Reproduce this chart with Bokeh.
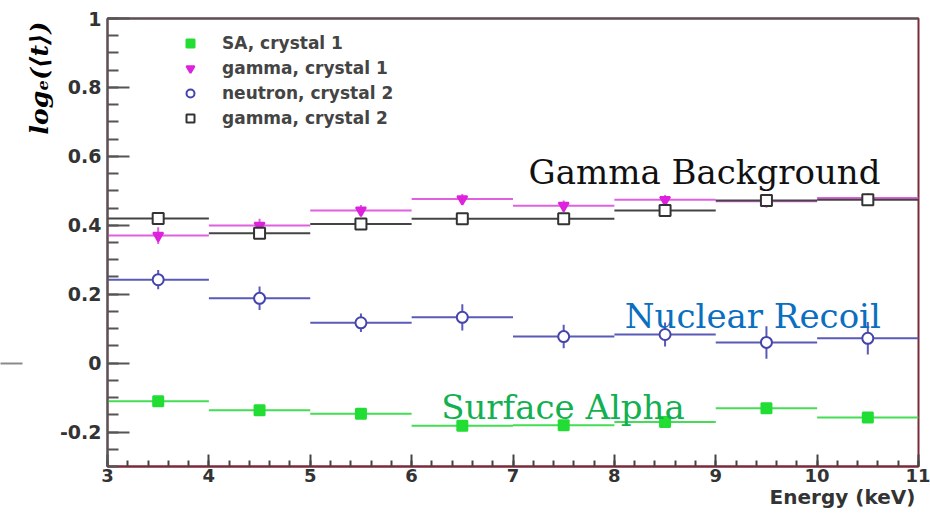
from bokeh.plotting import figure
from bokeh.models import FixedTicker, Label, Legend, LegendItem, LinearAxis, Range1d
from bokeh.embed import file_html
from bokeh.resources import INLINE

# ---------------- data ----------------
energy = [3.5, 4.5, 5.5, 6.5, 7.5, 8.5, 9.5, 10.5]
bin_half_width = [0.5] * 8

sa_c1 = [-0.111, -0.137, -0.147, -0.182, -0.180, -0.171, -0.131, -0.158]
sa_c1_err = [0.006, 0.006, 0.006, 0.006, 0.006, 0.006, 0.006, 0.006]

gamma_c1 = [0.370, 0.399, 0.443, 0.476, 0.457, 0.474, 0.470, 0.479]
gamma_c1_err = [0.024, 0.020, 0.016, 0.015, 0.015, 0.014, 0.014, 0.014]

neutron_c2 = [0.242, 0.188, 0.117, 0.133, 0.077, 0.083, 0.060, 0.072]
neutron_c2_err = [0.028, 0.034, 0.027, 0.038, 0.034, 0.035, 0.047, 0.047]

gamma_c2 = [0.420, 0.377, 0.404, 0.419, 0.419, 0.443, 0.472, 0.474]
gamma_c2_err = [0.008, 0.008, 0.008, 0.008, 0.008, 0.008, 0.008, 0.008]

series_names = ["SA, crystal 1", "gamma, crystal 1", "neutron, crystal 2", "gamma, crystal 2"]
x_ticks = [3, 4, 5, 6, 7, 8, 9, 10, 11]
y_ticks = [-0.2, 0, 0.2, 0.4, 0.6, 0.8, 1]
y_tick_labels = ["-0.2", "0", "0.2", "0.4", "0.6", "0.8", "1"]

annotations = ["Gamma Background", "Nuclear Recoil", "Surface Alpha"]
x_title = "Energy (keV)"
y_title = "log\u2091(\u27e8t\u27e9)"

# ---------------- figure ----------------
W, H = 930, 513
p = figure(width=W, height=H, output_backend="svg", toolbar_location=None,
           x_range=Range1d(3, 11), y_range=Range1d(-0.3, 1.0),
           min_border_left=107, min_border_right=12, min_border_top=18,
           min_border_bottom=47)
p.grid.visible = False
p.background_fill_color = "white"
p.outline_line_color = "#7a2a3a"
p.outline_line_width = 2

tick_font = "DejaVu Sans"
for ax in p.xaxis:
    ax.ticker = FixedTicker(ticks=x_ticks,
                            minor_ticks=[3 + 0.2 * i for i in range(41)])
    ax.axis_line_color = "#7a2a3a"
    ax.axis_line_width = 2
    ax.major_tick_in = 12
    ax.major_tick_out = 0
    ax.minor_tick_in = 6
    ax.minor_tick_out = 0
    ax.major_tick_line_color = "#444444"
    ax.minor_tick_line_color = "#444444"
    ax.major_tick_line_width = 2
    ax.minor_tick_line_width = 2
    ax.major_label_text_font = tick_font
    ax.major_label_text_font_style = "bold"
    ax.major_label_text_font_size = "18px"
    ax.major_label_text_color = "#333333"
    ax.major_label_standoff = 2

for ax in p.yaxis:
    ax.ticker = FixedTicker(ticks=y_ticks,
                            minor_ticks=[-0.3 + 0.05 * i for i in range(27)])
    ax.major_label_overrides = {t: l for t, l in zip(y_ticks, y_tick_labels)}
    ax.axis_line_color = "#555555"
    ax.axis_line_width = 2
    ax.major_tick_in = 22
    ax.major_tick_out = 0
    ax.minor_tick_in = 11
    ax.minor_tick_out = 0
    ax.major_tick_line_color = "#555555"
    ax.minor_tick_line_color = "#555555"
    ax.major_tick_line_width = 2
    ax.minor_tick_line_width = 2
    ax.major_label_text_font = tick_font
    ax.major_label_text_font_style = "bold"
    ax.major_label_text_font_size = "19px"
    ax.major_label_text_color = "#333333"
    ax.major_label_standoff = 6

top_axis = LinearAxis(ticker=FixedTicker(ticks=[]), major_label_text_font_size="0px",
                      axis_line_color="#555555", axis_line_width=2)
p.add_layout(top_axis, "above")

# x title: carried by a bare axis whose single label ends at the right edge
x_title_pos = 10.25
x_title_axis = LinearAxis(ticker=FixedTicker(ticks=[x_title_pos], minor_ticks=[]),
                          major_label_overrides={x_title_pos: x_title},
                          axis_line_alpha=0, major_tick_in=0, major_tick_out=0,
                          minor_tick_in=0, minor_tick_out=0,
                          major_label_standoff=0,
                          major_label_text_font=tick_font,
                          major_label_text_font_style="bold",
                          major_label_text_font_size="20px",
                          major_label_text_color="#333333")
p.add_layout(x_title_axis, "below")

# y title: bare axis with one vertical label near the top
y_title_pos = 0.827
y_title_axis = LinearAxis(ticker=FixedTicker(ticks=[y_title_pos], minor_ticks=[]),
                          major_label_overrides={y_title_pos: y_title},
                          major_label_orientation="vertical",
                          axis_line_alpha=0, major_tick_in=0, major_tick_out=0,
                          minor_tick_in=0, minor_tick_out=0,
                          major_label_standoff=2,
                          major_label_text_font="DejaVu Serif",
                          major_label_text_font_style="bold italic",
                          major_label_text_font_size="25px",
                          major_label_text_color="#000000")
p.add_layout(y_title_axis, "left")

# short grey stroke left of the chart at the zero level
stroke_axis = LinearAxis(ticker=FixedTicker(ticks=[0], minor_ticks=[]),
                         major_label_overrides={0: ""},
                         axis_line_alpha=0, major_tick_in=0, major_tick_out=22,
                         major_tick_line_color="#8a8a8a", major_tick_line_width=2,
                         minor_tick_in=0, minor_tick_out=0,
                         major_label_standoff=0, major_label_text_font_size="1px")
p.add_layout(stroke_axis, "left")

# ---------------- series ----------------
styles = [
    (sa_c1, sa_c1_err, "#22dd33", "#44dd55", "square", "#22dd33", 10),
    (gamma_c1, gamma_c1_err, "#dd22dd", "#e060e0", "inverted_triangle", "#dd22dd", 10),
    (neutron_c2, neutron_c2_err, "#4444aa", "#5a5ab8", "circle", None, 11),
    (gamma_c2, gamma_c2_err, "#333333", "#444444", "square", None, 11),
]

legend_items = []
for (vals, errs, mcol, lcol, marker, fill, size), name in zip(styles, series_names):
    x0 = [e - h for e, h in zip(energy, bin_half_width)]
    x1 = [e + h for e, h in zip(energy, bin_half_width)]
    p.segment(x0=x0, y0=vals, x1=x1, y1=vals, line_color=lcol, line_width=2)
    lo = [v - e for v, e in zip(vals, errs)]
    hi = [v + e for v, e in zip(vals, errs)]
    p.segment(x0=energy, y0=lo, x1=energy, y1=hi, line_color=lcol, line_width=2)
    r = p.scatter(x=energy, y=vals, marker=marker, size=size,
                  line_color=mcol, line_width=2,
                  fill_color=fill if fill else "white", fill_alpha=1.0)
    legend_items.append((name, r))

legend = Legend(items=[LegendItem(label=n, renderers=[r]) for n, r in legend_items],
                location=(73, 338), orientation="vertical",
                border_line_alpha=0, background_fill_alpha=0,
                padding=0, margin=0, spacing=5,
                label_height=20, glyph_height=20, glyph_width=20,
                label_standoff=22,
                label_text_font="DejaVu Sans", label_text_font_style="bold",
                label_text_font_size="17px", label_text_color="#444444")
p.add_layout(legend, "center")

# ---------------- texts ----------------
serif = "DejaVu Serif"
p.add_layout(Label(x=8.889, y=0.554, text=annotations[0], text_font=serif,
                   text_font_size="34px", text_color="#111111",
                   text_align="center", text_baseline="alphabetic"))
p.add_layout(Label(x=9.366, y=0.138, text=annotations[1], text_font=serif,
                   text_font_size="34px", text_color="#0b6fc0",
                   text_align="center", text_baseline="alphabetic"))
p.add_layout(Label(x=7.493, y=-0.128, text=annotations[2], text_font=serif,
                   text_font_size="34px", text_color="#12b050",
                   text_align="center", text_baseline="alphabetic"))

open("out.html", "w").write(file_html(p, INLINE))
